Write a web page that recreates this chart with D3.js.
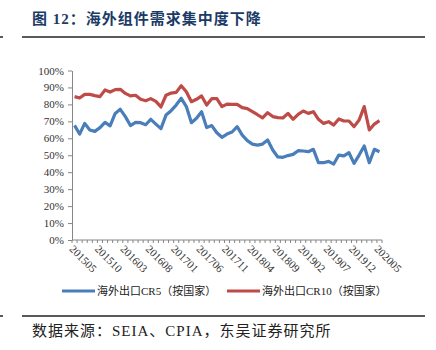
<!DOCTYPE html>
<html>
<head>
<meta charset="utf-8">
<script src="https://cdn.jsdelivr.net/npm/d3@7"></script>
<style>
  body { margin: 0; background: #fff; }
  svg { display: block; }
</style>
</head>
<body>
<script>
const W = 436
const H = 350
const margin = { top: 70.5, right: 55, bottom: 110, left: 72 }

// monthly, 201505 .. 202005
const months = []
for (let y = 2015, m = 5; y * 100 + m <= 202005; m++) {
  if (m > 12) { m = 1; y++ }
  months.push(`${y}${String(m).padStart(2, '0')}`)
}
const tickLabels = ['201505', '201510', '201603', '201608', '201701', '201706', '201711',
  '201804', '201809', '201902', '201907', '201912', '202005']

const cr5 = [67.6, 62.5, 68.8, 64.9, 64.1, 66.3, 69.4, 67.3, 74.7, 77.1,
  72.8, 67.5, 69.4, 69.2, 68.0, 71.2, 68.4, 65.7, 73.7, 76.3,
  79.6, 83.6, 78.7, 69.2, 71.8, 75.7, 66.3, 67.5, 63.3, 60.6,
  62.5, 63.7, 66.9, 61.9, 58.6, 56.6, 56.0, 56.6, 59.0, 53.1,
  49.0, 48.8, 49.8, 50.5, 52.7, 52.5, 52.1, 53.5, 45.6, 45.6,
  46.4, 44.8, 50.1, 49.6, 51.5, 45.2, 50.1, 55.5, 45.6, 53.5, 52.1]
const cr10 = [84.6, 83.8, 85.9, 85.9, 85.2, 84.6, 88.5, 87.3, 88.7, 88.9,
  86.5, 85.0, 85.4, 83.0, 82.2, 83.4, 81.8, 78.5, 85.4, 86.7,
  87.1, 91.0, 87.5, 81.6, 83.0, 85.0, 79.6, 83.4, 83.4, 78.7,
  80.2, 80.0, 80.0, 78.1, 77.5, 75.7, 73.9, 72.0, 75.1, 72.8,
  72.2, 72.0, 74.7, 71.2, 74.1, 76.1, 74.7, 75.7, 71.2, 68.8,
  69.8, 67.8, 71.4, 70.2, 70.2, 66.9, 70.8, 78.7, 64.9, 68.4, 70.4]
const yTicks = [0, 10, 20, 30, 40, 50, 60, 70, 80, 90, 100]
const seriesNames = ['海外出口CR5（按国家）', '海外出口CR10（按国家）']
const colors = ['#4A7EBB', '#BE4B48']

const plotW = 382 - margin.left
const plotH = 240 - margin.top

const svg = d3.select('body').append('svg')
  .attr('width', W)
  .attr('height', H)

// title and rules
svg.append('text')
  .attr('x', 32).attr('y', 24)
  .style('font-family', '"Liberation Serif", "Noto Sans CJK SC"')
  .style('font-weight', 'bold')
  .style('font-size', '15px')
  .style('letter-spacing', '1px')
  .style('fill', '#1B3A66')
  .text('图 12：海外组件需求集中度下降')

const rules = [37, 316]
rules.forEach(y => {
  svg.append('line').attr('x1', 22).attr('x2', 425).attr('y1', y).attr('y2', y)
    .style('stroke', '#222').style('stroke-width', 1.5)
  svg.append('line').attr('x1', 0).attr('x2', 3).attr('y1', y).attr('y2', y)
    .style('stroke', '#222').style('stroke-width', 1.5)
})

svg.append('text')
  .attr('x', 32).attr('y', 336)
  .style('font-family', '"Liberation Serif", "Noto Sans CJK SC"')
  .style('font-size', '15px')
  .style('letter-spacing', '1px')
  .style('fill', '#222')
  .text('数据来源：SEIA、CPIA，东吴证券研究所')

const g = svg.append('g')
  .attr('transform', `translate(${margin.left} ${margin.top})`)

const xScale = d3.scaleBand()
  .domain(months)
  .range([0, plotW])
const yScale = d3.scaleLinear()
  .domain([0, 100])
  .range([plotH, 0])

const yAxis = g.append('g')
  .call(d3.axisLeft(yScale).tickValues(yTicks).tickFormat(d => d + '%').tickSize(4).tickSizeOuter(0))
yAxis.selectAll('text')
  .style('font-family', '"Liberation Serif"')
  .style('font-size', '11px')
  .style('fill', '#333')
  .attr('x', -8)

// x axis: small ticks at each category boundary
const xAxis = g.append('g')
  .attr('transform', `translate(0, ${plotH})`)
xAxis.append('line')
  .attr('x1', 0).attr('x2', plotW)
xAxis.selectAll('.tk')
  .data(months.concat(['end']))
  .enter().append('line')
  .attr('class', 'tk')
  .attr('x1', (d, i) => i * xScale.step())
  .attr('x2', (d, i) => i * xScale.step())
  .attr('y1', 0).attr('y2', 3)
xAxis.selectAll('text')
  .data(tickLabels)
  .enter().append('text')
  .attr('transform', d => `translate(${xScale(d) + xScale.bandwidth() / 2 - 3}, 7) rotate(45)`)
  .style('font-family', '"Liberation Serif"')
  .style('font-size', '11px')
  .style('fill', '#333')
  .attr('dy', '0.35em')
  .text(d => d)

g.selectAll('.domain, .tick line').style('stroke', '#868686')
xAxis.selectAll('line').style('stroke', '#868686')

const line = d3.line()
  .x((d, i) => xScale(months[i]) + xScale.bandwidth() / 2)
  .y(d => yScale(d))

;[cr5, cr10].forEach((s, k) => {
  g.append('path')
    .datum(s)
    .attr('d', line)
    .style('fill', 'none')
    .style('stroke', colors[k])
    .style('stroke-width', 3.2)
    .style('stroke-linejoin', 'round')
})

// legend
const legendX = [62, 227]
seriesNames.forEach((name, k) => {
  const lg = svg.append('g').attr('transform', `translate(${legendX[k]}, 291)`)
  lg.append('line').attr('x1', 0).attr('x2', 33)
    .style('stroke', colors[k]).style('stroke-width', 3.2)
  lg.append('text')
    .attr('x', 35).attr('dy', '0.35em')
    .style('font-family', '"Liberation Serif", "Noto Sans CJK SC"')
    .style('font-size', '11px')
    .style('fill', '#222')
    .text(name)
})
</script>
</body>
</html>
